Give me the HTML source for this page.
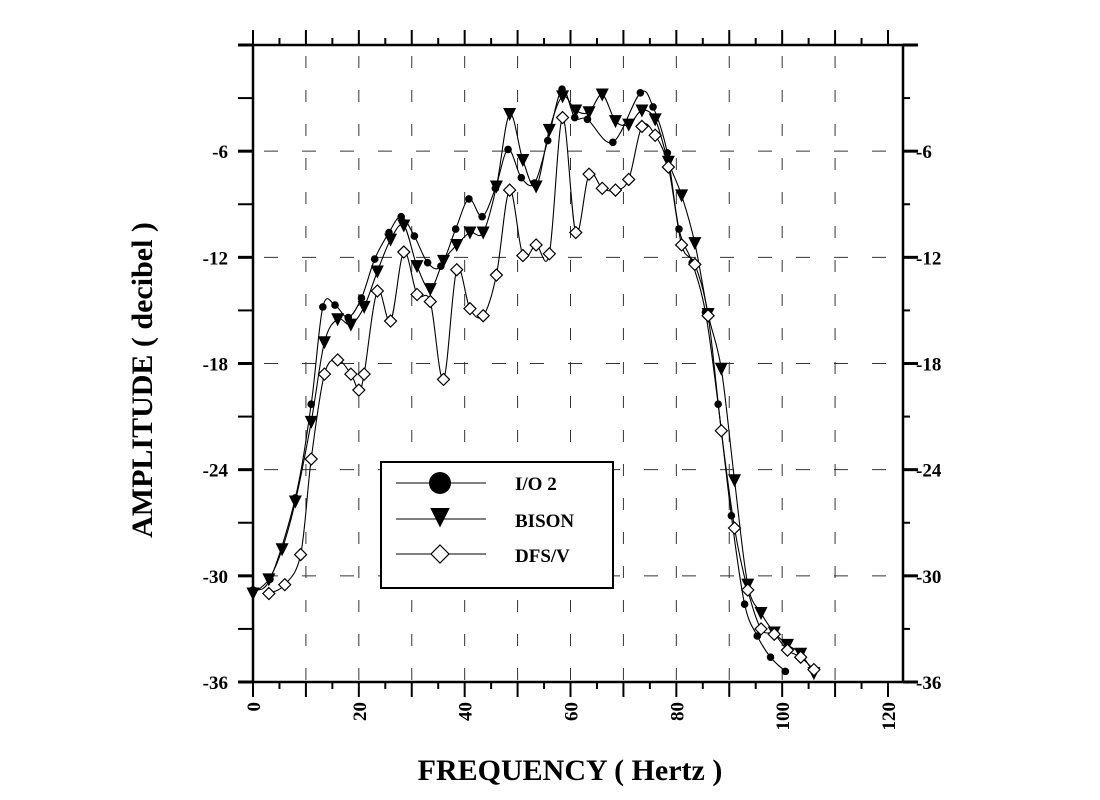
<!DOCTYPE html>
<html><head><meta charset="utf-8"><style>
html,body{margin:0;padding:0;background:#fff;}
svg{display:block;font-family:"Liberation Serif",serif;font-weight:bold;}
</style></head><body>
<svg id="s" width="1100" height="800" viewBox="0 0 1100 800" xmlns="http://www.w3.org/2000/svg">
<text x="570" y="780" font-size="30" text-anchor="middle">FREQUENCY  ( Hertz )</text>
<text transform="translate(152,380) rotate(-90)" font-size="30" text-anchor="middle">AMPLITUDE  ( decibel )</text>
</svg>
<script>
var s=document.getElementById('s'),NS='http://www.w3.org/2000/svg';
function X(f){return 253+f*635/120;}function Y(d){return 45-d*637/36;}
function add(t,a){var e=document.createElementNS(NS,t);for(var k in a)e.setAttribute(k,a[k]);s.appendChild(e);return e;}
for(var f=10;f<=110;f+=10)add('line',{x1:X(f),y1:48,x2:X(f),y2:680,stroke:'#333','stroke-width':1,'stroke-dasharray':'12,22','stroke-dashoffset':-8});
for(var d=-6;d>=-30;d-=6)add('line',{x1:256,y1:Y(d),x2:900,y2:Y(d),stroke:'#333','stroke-width':1,'stroke-dasharray':'14,24','stroke-dashoffset':-8});
add('line',{x1:238,y1:45,x2:918,y2:45,stroke:'#000','stroke-width':2.5});
add('line',{x1:238,y1:682,x2:918,y2:682,stroke:'#000','stroke-width':2.5});
add('line',{x1:253,y1:45,x2:253,y2:682,stroke:'#000','stroke-width':2.5});
add('line',{x1:903,y1:45,x2:903,y2:682,stroke:'#000','stroke-width':2.5});
for(var f=0;f<=120;f+=5){var maj=f%10==0;
add('line',{x1:X(f),y1:45,x2:X(f),y2:maj?30:38,stroke:'#000','stroke-width':2});
add('line',{x1:X(f),y1:682,x2:X(f),y2:maj?697:689,stroke:'#000','stroke-width':2});}
for(var d=0;d>=-36;d-=3){var maj=d%6==0;
add('line',{x1:238,y1:Y(d),x2:253,y2:Y(d),stroke:'#000','stroke-width':maj?3:2});
add('line',{x1:903,y1:Y(d),x2:maj?918:910,y2:Y(d),stroke:'#000','stroke-width':maj?3:2});
if(maj&&d<0){var t=add('text',{x:228,y:Y(d)+7,'font-size':19,'text-anchor':'end'});t.textContent=d;
t=add('text',{x:916,y:Y(d)+7,'font-size':19});t.textContent=d;}}
for(var f=0;f<=120;f+=20){var t=add('text',{transform:'translate('+(X(f)+7)+',702) rotate(-90)','font-size':19,'text-anchor':'end'});t.textContent=f;}
function path(p){var d='M'+X(p[0][0])+','+Y(p[0][1]);for(var i=0;i<p.length-1;i++){var p0=p[Math.max(i-1,0)],p1=p[i],p2=p[i+1],p3=p[Math.min(i+2,p.length-1)];
var c1x=X(p1[0])+(X(p2[0])-X(p0[0]))/6,c1y=Y(p1[1])+(Y(p2[1])-Y(p0[1]))/6,c2x=X(p2[0])-(X(p3[0])-X(p1[0]))/6,c2y=Y(p2[1])-(Y(p3[1])-Y(p1[1]))/6;
d+=' C'+c1x+','+c1y+' '+c2x+','+c2y+' '+X(p2[0])+','+Y(p2[1]);}
add('path',{d:d,fill:'none',stroke:'#000','stroke-width':1.1});}
var io=[[0,-30.8],[3.2,-30.2],[8,-25.6],[11,-20.3],[13.2,-14.8],[15.5,-14.7],[18,-15.4],[20.5,-14.3],[23,-12.1],[25.7,-10.6],[28,-9.7],[30.5,-10.8],[33,-12.3],[35.5,-12.5],[38.3,-10.4],[40.8,-8.7],[43.3,-9.7],[45.8,-8.1],[48.2,-5.9],[50.7,-7.5],[53.2,-7.8],[55.7,-5.4],[58.4,-2.5],[60.8,-4.1],[63.2,-4.2],[68,-5.5],[73.2,-2.7],[75.6,-3.5],[78.3,-6.1],[80.5,-10.4],[83,-12.3],[85.5,-15.1],[87.9,-20.3],[90.4,-26.6],[92.9,-31.6],[95.3,-33.4],[97.8,-34.6],[100.6,-35.4]];
var bi=[[0,-31],[3,-30.2],[5.5,-28.5],[8,-25.8],[11,-21.3],[13.5,-16.8],[16,-15.5],[18.5,-15.8],[21,-14.8],[23.5,-12.8],[26,-11],[28.5,-10.2],[31,-12.5],[33.5,-13.8],[36,-12.2],[38.5,-11.3],[41,-10.6],[43.5,-10.6],[46,-8],[48.5,-3.9],[51,-6.5],[53.5,-8],[56,-4.8],[58.5,-2.9],[61,-3.7],[63.5,-3.8],[66,-2.8],[68.5,-4.3],[71,-4.5],[73.5,-3.7],[76,-4.2],[78.5,-6.6],[81,-8.5],[83.5,-11.2],[86,-15.2],[88.5,-18.3],[91,-24.6],[93.5,-30.5],[96,-32.1],[98.5,-33.2],[101,-33.9],[103.5,-34.4],[106,-35.5]];
var df=[[3,-31],[6,-30.5],[9,-28.8],[11,-23.4],[13.5,-18.6],[16,-17.8],[18.5,-18.6],[20,-19.5],[21,-18.6],[23.5,-13.9],[26,-15.6],[28.5,-11.7],[31,-14.1],[33.5,-14.5],[36,-18.9],[38.5,-12.7],[41,-14.9],[43.5,-15.3],[46,-13],[48.5,-8.2],[51,-11.9],[53.5,-11.3],[56,-11.8],[58.5,-4.1],[61,-10.6],[63.5,-7.3],[66,-8.1],[68.5,-8.2],[71,-7.6],[73.5,-4.6],[76,-5.1],[78.5,-6.9],[81,-11.3],[83.5,-12.4],[86,-15.3],[88.5,-21.8],[91,-27.3],[93.5,-30.8],[96,-33],[98.5,-33.3],[101,-34.2],[103.5,-34.6],[106,-35.3]];
path(io);path(bi);path(df);
function circ(x,y,r){add('circle',{cx:x,cy:y,r:r});}
function tri(x,y,k){add('path',{d:'M'+(x-6.5*k)+','+(y-6*k)+' L'+(x+6.5*k)+','+(y-6*k)+' L'+x+','+(y+7*k)+' Z'});}
function dia(x,y,k){add('path',{d:'M'+x+','+(y-6*k)+' L'+(x+6*k)+','+y+' L'+x+','+(y+6*k)+' L'+(x-6*k)+','+y+' Z',fill:'#fff',stroke:'#000','stroke-width':1.2});}
io.forEach(function(p){circ(X(p[0]),Y(p[1]),3.8);});
bi.forEach(function(p){tri(X(p[0]),Y(p[1]),1);});
df.forEach(function(p){dia(X(p[0]),Y(p[1]),1);});
add('rect',{x:381,y:462,width:232,height:126,fill:'#fff',stroke:'#000','stroke-width':2});
[483,519,554].forEach(function(y){add('line',{x1:396,y1:y,x2:486,y2:y,stroke:'#000'});});
circ(440,483,11);tri(440,517,1.5);dia(440,554,1.5);
var nm=['I/O  2','BISON','DFS/V'];[490,527,562].forEach(function(y,i){var t=add('text',{x:515,y:y,'font-size':19,'xml:space':'preserve'});t.textContent=nm[i];});
</script>
</body></html>
